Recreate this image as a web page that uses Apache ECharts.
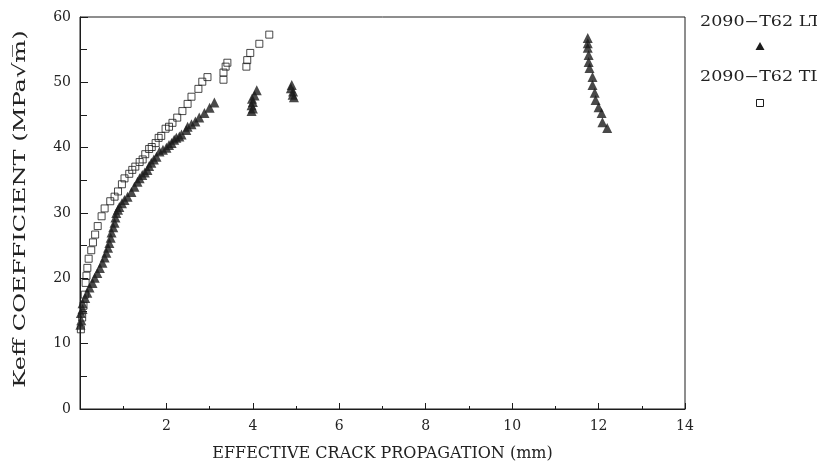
<!DOCTYPE html>
<html>
<head>
<meta charset="utf-8">
<script src="https://cdn.jsdelivr.net/npm/echarts@6/dist/echarts.min.js"></script>
<style>html,body{margin:0;padding:0;background:#fff}#c{width:817px;height:473px}</style>
</head>
<body>
<div id="c"></div>
<script>
// ---- data (x: effective crack propagation, mm; y: Keff, MPa√m) ----
const seriesNames = ['2090\u2212T62 LT', '2090\u2212T62 TL'];
const xTicks = [2, 4, 6, 8, 10, 12, 14];
const yTicks = [0, 10, 20, 30, 40, 50, 60];

const ltMain = [
  [0.01,12.9],[0.03,13.6],[0.02,14.7],[0.06,15.3],[0.06,16.2],[0.12,17.0],[0.17,17.8],[0.22,18.6],
  [0.29,19.3],[0.34,20.1],[0.40,20.8],[0.46,21.6],[0.52,22.4],[0.57,23.2],[0.61,23.9],[0.65,24.7],
  [0.68,25.4],[0.71,26.2],[0.73,27.0],[0.77,27.8],[0.80,28.5],[0.82,29.3],[0.84,30.0],[0.88,30.5],
  [0.91,30.9],[0.97,31.5],[1.03,32.0],[1.10,32.5],[1.19,33.2],[1.26,34.0],[1.33,34.8],[1.38,35.3],
  [1.44,35.8],[1.50,36.2],[1.56,36.6],[1.60,37.2],[1.65,37.7],[1.71,38.2],[1.77,38.6],[1.84,39.4],
  [1.92,39.7],[2.00,40.0],[2.06,40.4],[2.12,40.7],[2.18,41.2],[2.23,41.5],[2.30,41.7],[2.35,42.0],
  [2.46,42.7],[2.49,43.2],[2.58,43.6],[2.67,44.0],[2.76,44.6],[2.88,45.3],[3.00,46.1],[3.11,46.9]
];
const ltCluster4 = [[3.97,45.6],[4.00,46.0],[3.97,46.5],[4.00,47.0],[3.98,47.5],[4.04,48.0],[4.09,48.8]];
const ltCluster5 = [[4.95,47.7],[4.92,48.1],[4.93,48.6],[4.88,49.1],[4.90,49.6]];
const ltCluster12 = [
  [11.75,56.8],[11.75,56.0],[11.75,55.3],[11.77,54.2],[11.77,53.1],[11.79,52.2],[11.86,50.8],
  [11.86,49.6],[11.91,48.4],[11.93,47.3],[12.00,46.2],[12.07,45.3],[12.09,43.9],[12.20,43.0]
];
const tlPoints = [
  [0.02,12.2],[0.05,14.0],[0.08,15.8],[0.11,17.5],[0.13,19.3],[0.15,20.4],[0.17,21.6],[0.20,23.0],
  [0.26,24.3],[0.30,25.5],[0.35,26.7],[0.41,28.0],[0.50,29.5],[0.57,30.7],[0.70,31.8],[0.80,32.5],
  [0.88,33.3],[0.97,34.4],[1.03,35.3],[1.14,36.0],[1.21,36.6],[1.28,37.1],[1.38,37.8],[1.45,38.2],
  [1.51,39.0],[1.60,39.8],[1.66,40.1],[1.75,40.7],[1.82,41.5],[1.88,41.8],[1.98,42.9],[2.06,43.2],
  [2.14,43.8],[2.25,44.6],[2.37,45.6],[2.49,46.7],[2.58,47.8],[2.74,49.0],[2.83,50.1],[2.95,50.8],
  [3.32,50.4],[3.32,51.5],[3.37,52.4],[3.41,53.0],[3.85,52.4],[3.87,53.4],[3.94,54.5],[4.15,55.9],
  [4.38,57.3]
];

const ltPoints = ltMain.concat(ltCluster4, ltCluster5, ltCluster12);
const ink = '#1c1c1c';
const serif = 'DejaVu Serif';

const chart = echarts.init(document.getElementById('c'), null, {renderer: 'canvas'});
chart.setOption({
  backgroundColor: '#ffffff',
  animation: false,
  grid: {left: 80, top: 17, width: 605, height: 392, show: true, borderColor: ink, borderWidth: 1, backgroundColor: 'transparent'},
  xAxis: {
    type: 'value', min: 0, max: 14, interval: 2,
    axisLine: {show: true, lineStyle: {color: ink, width: 1}},
    axisTick: {show: true, inside: true, length: 6, lineStyle: {color: ink}},
    minorTick: {show: true, splitNumber: 2, length: 3, lineStyle: {color: ink}},
    splitLine: {show: false},
    axisLabel: {
      margin: 10, color: '#222', fontFamily: serif, fontSize: 14,
      formatter: v => (xTicks.indexOf(v) >= 0 ? String(v) : '')
    },
    name: 'EFFECTIVE CRACK PROPAGATION (mm)', nameLocation: 'middle', nameGap: 37,
    nameTextStyle: {color: '#222', fontFamily: serif, fontSize: 16}
  },
  yAxis: {
    type: 'value', min: 0, max: 60, interval: 10,
    axisLine: {show: true, lineStyle: {color: ink, width: 1}},
    axisTick: {show: true, inside: true, length: 8, lineStyle: {color: ink}},
    minorTick: {show: true, splitNumber: 2, length: 7, lineStyle: {color: ink}},
    splitLine: {show: false},
    axisLabel: {
      margin: 9, color: '#222', fontFamily: serif, fontSize: 14,
      formatter: v => (yTicks.indexOf(v) >= 0 ? String(v) : '')
    }
  },
  series: [
    {
      name: seriesNames[0], type: 'scatter', data: ltPoints,
      symbol: 'triangle', symbolSize: 10,
      itemStyle: {color: ink}
    },
    {
      name: seriesNames[1], type: 'scatter', data: tlPoints,
      symbol: 'rect', symbolSize: 7,
      itemStyle: {color: 'rgba(0,0,0,0)', borderColor: ink, borderWidth: 1}
    }
  ],
  graphic: [
    {type: 'text', x: 21, y: 209, rotation: Math.PI / 2, scaleX: 1.42,
     style: {text: 'Keff COEFFICIENT (MPa\u221Am\u0305)', font: '17px "DejaVu Serif"', fill: '#222', textAlign: 'center', textVerticalAlign: 'middle'}},
    {type: 'text', x: 700, y: 22, scaleX: 1.25,
     style: {text: seriesNames[0], font: '14px "DejaVu Serif"', fill: '#222', textAlign: 'left', textVerticalAlign: 'middle'}},
    {type: 'polygon', shape: {points: [[760, 42], [764.5, 50], [755.5, 50]]}, style: {fill: ink}},
    {type: 'text', x: 700, y: 77, scaleX: 1.25,
     style: {text: seriesNames[1], font: '14px "DejaVu Serif"', fill: '#222', textAlign: 'left', textVerticalAlign: 'middle'}},
    {type: 'rect', shape: {x: 756.5, y: 99.5, width: 7, height: 7}, style: {fill: 'none', stroke: ink, lineWidth: 1}}
  ]
});
</script>
</body>
</html>
